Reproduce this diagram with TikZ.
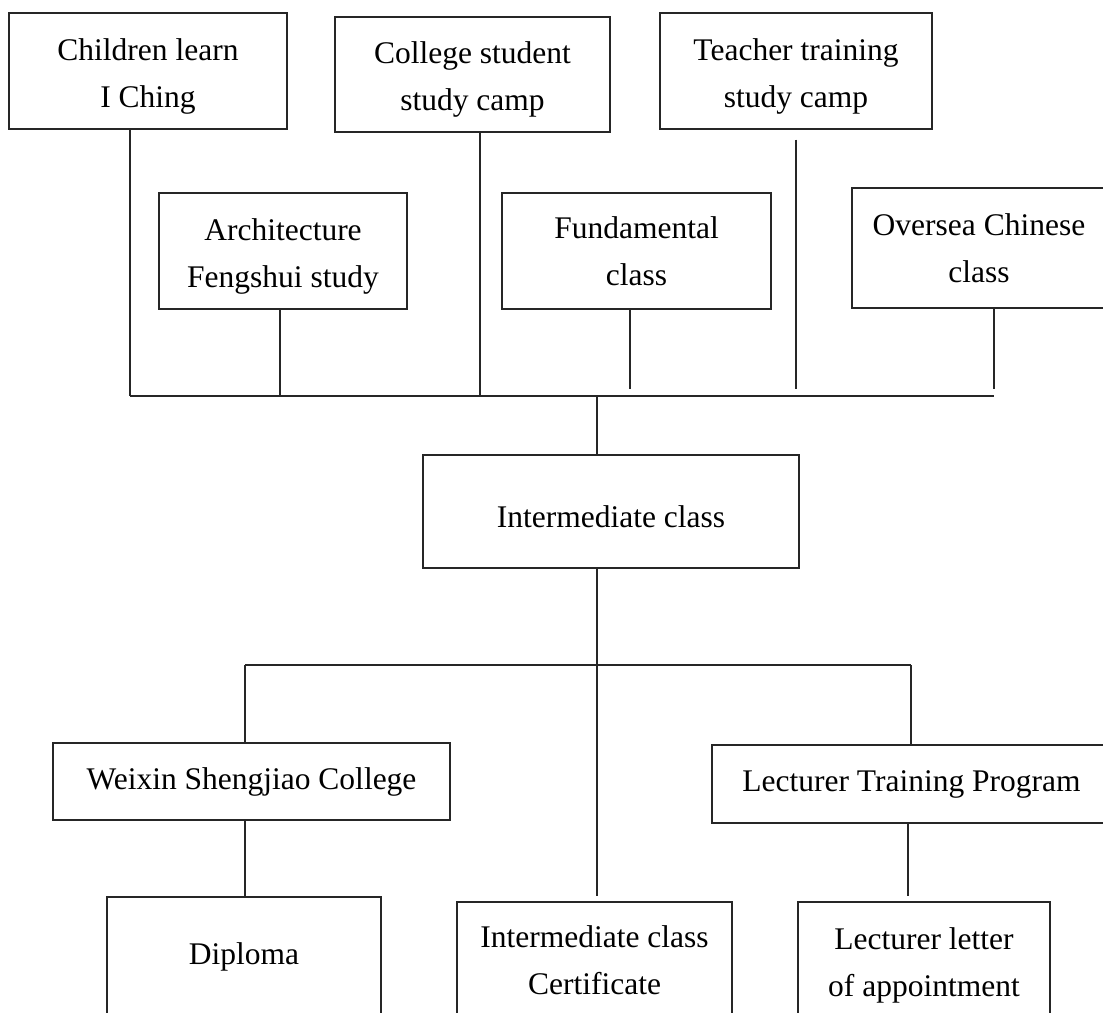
\documentclass[tikz,border=0pt]{standalone}
\usepackage{fontspec}
\setmainfont{Liberation Serif}
\usepackage{tikz}

\newcommand{\lowline}{\rule{0pt}{32pt}}

\begin{document}
\begin{tikzpicture}[
    x=1pt, y=-1pt,
    box/.style={draw=black!85, line width=1.4pt, align=center, inner sep=0pt, font=\fontsize{31.5}{47}\selectfont},
    link/.style={draw=black!85, line width=1.4pt}
    ]

    \useasboundingbox (0,0) rectangle (1103,1012);
    \clip (0,0) rectangle (1103,1012);

    % entry courses
    \node[box, minimum width=278, minimum height=116] (children) at (148,71) {\lowline Children learn\\I Ching};
    \node[box, minimum width=275, minimum height=115] (college) at (472.5,74.5) {\lowline College student\\study camp};
    \node[box, minimum width=272, minimum height=116] (teacher) at (796,71) {\lowline Teacher training\\study camp};

    \node[box, minimum width=248, minimum height=116] (arch) at (283,251) {\lowline Architecture\\Fengshui study};
    \node[box, minimum width=269, minimum height=116] (fund) at (636.5,251) {Fundamental\\class};
    \node[box, minimum width=254, minimum height=120] (oversea) at (979,248) {Oversea Chinese\\class};

    \node[box, minimum width=376, minimum height=113] (mid) at (611,511.5) {\lowline Intermediate class};

    \node[box, minimum width=397, minimum height=77] (weixin) at (251.5,781.5) {Weixin Shengjiao College};
    \node[box, minimum width=399, minimum height=78] (lectr) at (911.5,784) {Lecturer Training Program};

    \node[box, minimum width=274, minimum height=120] (diploma) at (244,957) {Diploma};
    \node[box, minimum width=275, minimum height=116] (cert) at (594.5,960) {Intermediate class\\Certificate};
    \node[box, minimum width=252, minimum height=116] (letter) at (924,960) {\lowline Lecturer letter\\of appointment};

    \coordinate (busL) at (130,396);
    \coordinate (busC) at (597,396);
    \coordinate (busR) at (994,396);
    \coordinate (stub) at (0,389);
    \coordinate (lowL) at (245,665);
    \coordinate (lowC) at (597,665);
    \coordinate (lowR) at (911,665);

    % upper bus
    \draw[link] (busL) -- (busR);
    \draw[link] (children.south -| busL) -- (busL);
    \draw[link] ([xshift=-3]arch.south) -- ([xshift=-3]arch.south |- busL);
    \draw[link] ([xshift=7.5]college.south) -- ([xshift=7.5]college.south |- busL);
    \draw[link] ([xshift=-6.5]fund.south) -- ([xshift=-6.5]fund.south |- stub);
    \draw[link] ([yshift=-10]teacher.south) -- (teacher.south |- stub);
    \draw[link] (oversea.south -| busR) -- (busR |- stub);
    \draw[link] (busC) -- (busC |- mid.north);

    % lower bus
    \draw[link] (mid.south -| lowC) -- ([yshift=5]cert.north -| lowC);
    \draw[link] (lowL) -- (lowR);
    \draw[link] (lowL) -- (lowL |- weixin.north);
    \draw[link] (lowR) -- (lowR |- lectr.north);
    \draw[link] (weixin.south -| lowL) -- (diploma.north -| lowL);
    \draw[link] ([xshift=-3.5]lectr.south) -- ([xshift=-3.5,yshift=5]lectr.south |- letter.north);

\end{tikzpicture}
\end{document}
